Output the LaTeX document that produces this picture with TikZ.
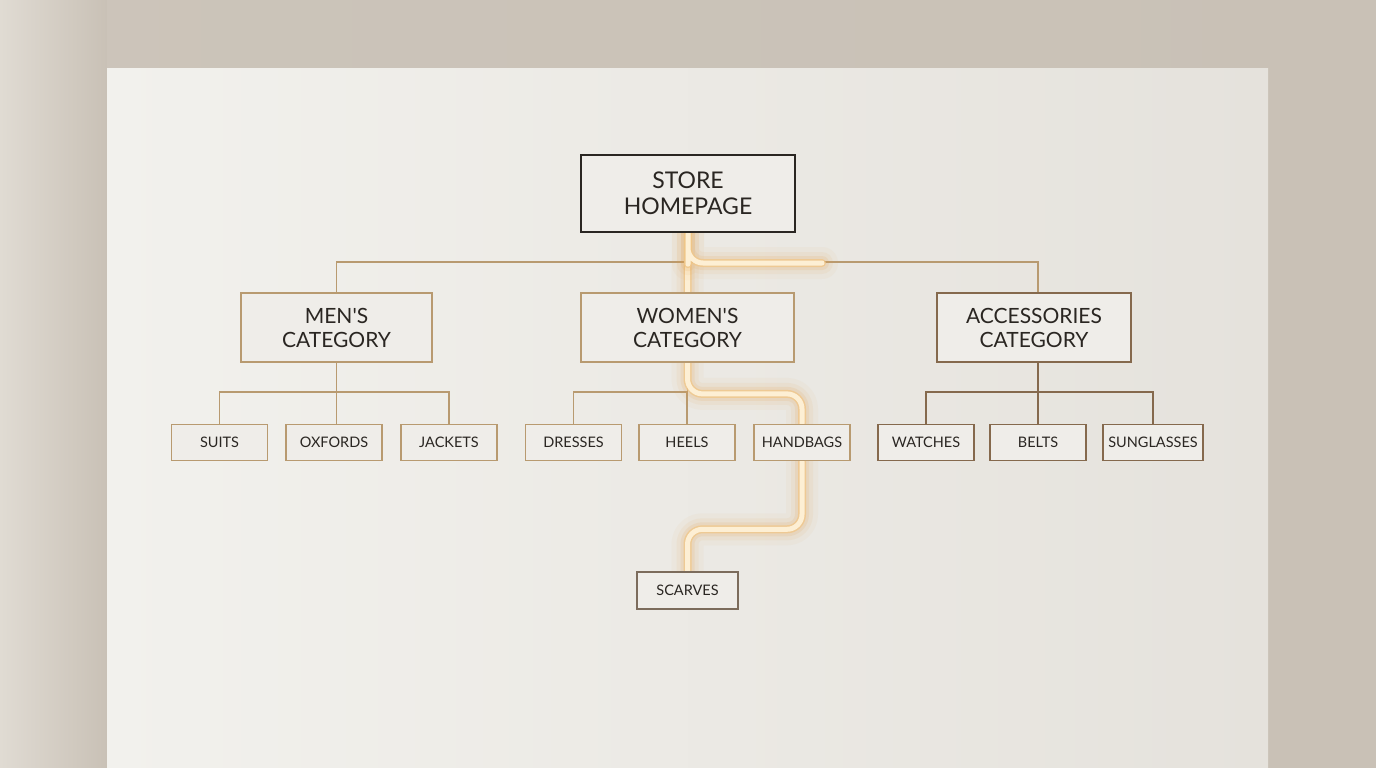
\documentclass[tikz,border=0pt]{standalone}
\usepackage{fontspec}
\setmainfont{Lato}
\usetikzlibrary{calc}
\pgfdeclarelayer{bg}
\pgfdeclarelayer{lines}
\pgfsetlayers{bg,lines,main}
\definecolor{wall}{HTML}{C9C1B6}
\definecolor{walllight}{HTML}{E0DBD3}
\definecolor{paper}{HTML}{EFEDE9}
\definecolor{paperlight}{HTML}{F2F1ED}
\definecolor{paperdark}{HTML}{E5E2DC}
\definecolor{ink}{HTML}{2A2622}
\definecolor{gold}{HTML}{B89A70}
\definecolor{brown}{HTML}{85694D}
\definecolor{greybrown}{HTML}{7C6C5C}
\definecolor{glowout}{HTML}{E3A04A}
\definecolor{glowcore}{HTML}{FDEFD4}
\definecolor{glowmid}{HTML}{F0C78A}
\tikzset{
  box/.style={draw, fill=paper, align=center, text=ink, inner sep=0pt},
  homebox/.style={box, draw=ink, line width=2.4pt, minimum width=214, minimum height=77, font=\fontsize{23}{26}\selectfont},
  catbox/.style={box, draw=gold, line width=1.8pt, minimum height=69, font=\fontsize{21}{24}\selectfont},
  leafbox/.style={box, draw=gold, line width=1.6pt, minimum width=96, minimum height=36, font=\fontsize{14.5}{17}\selectfont},
  conn/.style={draw=gold, line width=1.6pt},
  connb/.style={draw=brown, line width=1.6pt},
  glowpath/.style={rounded corners=15, line cap=round, line join=round},
}
\newcommand{\glowdraw}[1]{%
  \draw[glowpath, draw=glowout, opacity=0.05, line width=32pt] #1;
  \draw[glowpath, draw=glowout, opacity=0.08, line width=22pt] #1;
  \draw[glowpath, draw=glowout, opacity=0.13, line width=14pt] #1;
  \draw[glowpath, draw=glowmid, opacity=0.8, line width=8pt] #1;
  \draw[glowpath, draw=glowcore, line width=5pt] #1;
}
\begin{document}
\begin{tikzpicture}[x=1pt, y=-1pt]
\useasboundingbox (0,0) rectangle (1376,768);

% nodes
\node[homebox] (home) at (688,193.5) {STORE\\HOMEPAGE};
\node[catbox, minimum width=191] (men) at (336.5,327.5) {MEN\textquotesingle S\\CATEGORY};
\node[catbox, minimum width=213] (women) at (687.5,327.5) {WOMEN\textquotesingle S\\CATEGORY};
\node[catbox, draw=brown, minimum width=194] (acc) at (1034,327.5) {ACCESSORIES\\CATEGORY};

\node[leafbox] (suits) at (219.5,442.5) {SUITS};
\node[leafbox] (oxfords) at (334,442.5) {OXFORDS};
\node[leafbox] (jackets) at (449,442.5) {JACKETS};
\node[leafbox] (dresses) at (573.5,442.5) {DRESSES};
\node[leafbox] (heels) at (687,442.5) {HEELS};
\node[leafbox] (handbags) at (802,442.5) {HANDBAGS};
\node[leafbox, draw=brown] (watches) at (926,442.5) {WATCHES};
\node[leafbox, draw=brown] (belts) at (1038,442.5) {BELTS};
\node[leafbox, draw=brown, minimum width=100] (sung) at (1153,442.5) {SUNGLASSES};
\node[leafbox, draw=greybrown, minimum width=101, minimum height=37] (scarves) at (687.5,590.5) {SCARVES};

\coordinate (gend) at (822,263);

\begin{pgfonlayer}{bg}
% wall
\fill[wall] (0,0) rectangle (1376,768);
\shade[left color=walllight, right color=wall] (0,0) rectangle (107,768);
\shade[left color=wall!95!white, right color=wall] (107,0) rectangle (1376,69);
% paper
\shade[left color=paperlight, right color=paperdark] (107,69) rectangle (1268,768);
\end{pgfonlayer}

\begin{pgfonlayer}{lines}
% plain connectors
\draw[conn] (men.north) -- ++(0,-30) -| (acc.north -| belts.north);
\draw[conn] (home.south) -- (women.north);
\draw[conn] (men.south) -- (oxfords.north -| men.south);
\draw[conn] (suits.north) -- ++(0,-32) -| (jackets.north);
\draw[conn] (women.south) -- (heels.north -| women.south);
\draw[conn] (dresses.north) -- ++(0,-32) -| (heels.north);
\draw[connb] (belts.north |- acc.south) -- (belts.north);
\draw[connb] (watches.north) -- ++(0,-32) -| (sung.north);
% highlighted route
\glowdraw{(home.south) -- (women.north)}
\glowdraw{(home.south) -- ++(0,16) |- (gend)}
\glowdraw{(women.south) -- ++(0,31) -| (handbags.north)}
\glowdraw{(handbags.south) -- ++(0,68) -| (scarves.north)}
\end{pgfonlayer}
\end{tikzpicture}
\end{document}
